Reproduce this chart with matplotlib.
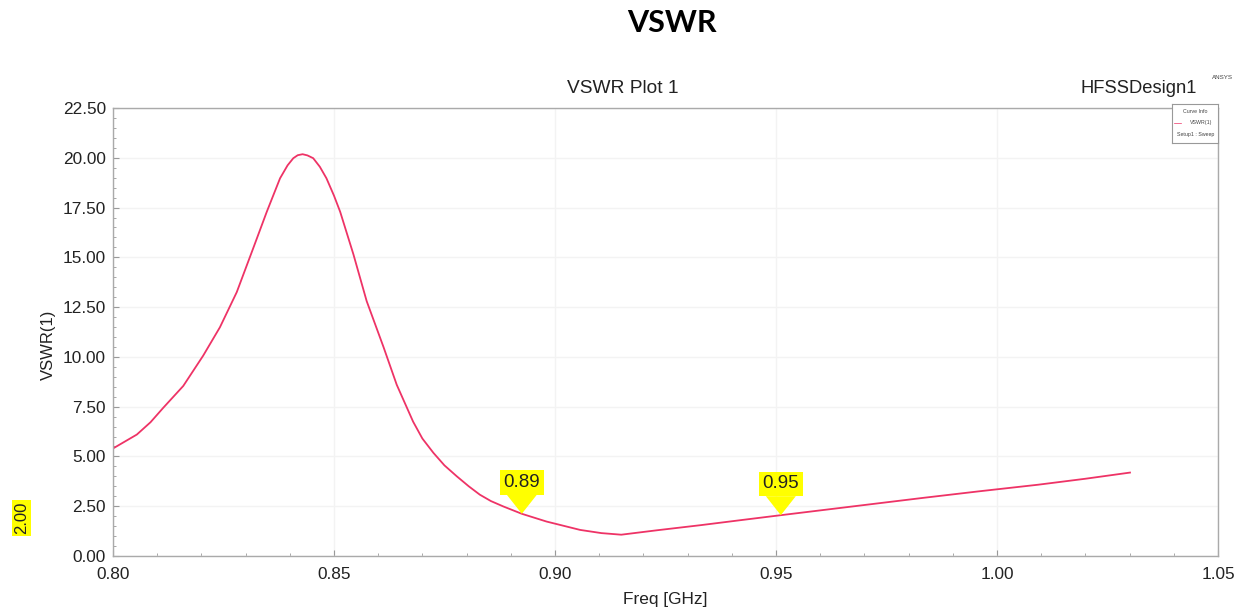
"""
HFSS VSWR plot recreation
"""
import numpy as np
import matplotlib.pyplot as plt
from matplotlib.ticker import AutoMinorLocator

# VSWR(1) curve
freq_ghz = [0.8000, 0.8054, 0.8085, 0.8114, 0.8159, 0.8204, 0.8242, 0.8280,
            0.8317, 0.8348, 0.8378, 0.8395, 0.8408, 0.8418, 0.8429, 0.8440,
            0.8453, 0.8468, 0.8483, 0.8500, 0.8514, 0.8544, 0.8574, 0.8612,
            0.8642, 0.8679, 0.8700, 0.8725, 0.8750, 0.8778, 0.8805, 0.8830,
            0.8855, 0.8883, 0.8925, 0.8981, 0.9057, 0.9105, 0.9150, 0.9230,
            0.9330, 0.9420, 0.9511, 0.9670, 0.9833, 0.9960, 1.0093, 1.0200,
            1.0301]
vswr = [5.40, 6.10, 6.72, 7.45, 8.54, 10.06, 11.49, 13.25,
        15.44, 17.29, 18.97, 19.62, 19.98, 20.13, 20.18, 20.12,
        19.98, 19.55, 18.97, 18.10, 17.29, 15.15, 12.80, 10.50,
        8.60, 6.75, 5.90, 5.18, 4.55, 4.00, 3.50, 3.08,
        2.76, 2.49, 2.12, 1.73, 1.31, 1.15, 1.07, 1.29,
        1.55, 1.80, 2.05, 2.48, 2.92, 3.25, 3.58, 3.88,
        4.19]

marker_freqs = [0.8925, 0.9511]
marker_labels = ["0.89", "0.95"]

x_ticks = [0.80, 0.85, 0.90, 0.95, 1.00, 1.05]
y_ticks = [0.0, 2.5, 5.0, 7.5, 10.0, 12.5, 15.0, 17.5, 20.0, 22.5]

plt.rcParams['font.family'] = ['Liberation Sans', 'DejaVu Sans']

fig = plt.figure(figsize=(12.47, 6.12), dpi=100)
ax = fig.add_axes([0.0906, 0.0915, 0.8861, 0.732])

ax.plot(freq_ghz, vswr, color='#EE3366', linewidth=1.3, solid_joinstyle='round')

ax.set_xlim(0.80, 1.05)
ax.set_ylim(0, 22.5)
ax.set_xticks(x_ticks)
ax.set_yticks(y_ticks)
ax.set_xticklabels([f"{t:.2f}" for t in x_ticks])
ax.set_yticklabels([f"{t:.2f}" for t in y_ticks])
ax.xaxis.set_minor_locator(AutoMinorLocator(5))
ax.yaxis.set_minor_locator(AutoMinorLocator(5))
ax.tick_params(which='both', direction='in', colors='#999999', labelcolor='#222222',
               labelsize=12.4, top=False, right=False)
ax.tick_params(which='major', length=4)
ax.tick_params(which='minor', length=2)
ax.tick_params(axis='x', which='major', pad=8)
ax.tick_params(axis='y', which='major', pad=5)
for s in ax.spines.values():
    s.set_color('#AAAAAA')
    s.set_linewidth(1.0)
ax.grid(True, which='major', color='#F3F3F3', linewidth=1.0)
ax.set_axisbelow(True)

ax.set_xlabel('Freq [GHz]', fontsize=12.4, color='#222222')
ax.set_ylabel('VSWR(1)', fontsize=12, color='#222222')
ax.xaxis.label.set_va('center')
ax.xaxis.set_label_coords(0.4995, -0.098)
ax.yaxis.label.set_va('center')
ax.yaxis.set_label_coords(-0.0588, 0.471)

# markers
for mf, lab in zip(marker_freqs, marker_labels):
    mv = np.interp(mf, freq_ghz, vswr)
    ax.annotate(lab, xy=(mf, mv), xytext=(0, 22.5), textcoords='offset points',
                ha='center', va='center', fontsize=13.5, color='#222222',
                bbox=dict(boxstyle='square,pad=0.2', fc='#FFFF00', ec='none'),
                arrowprops=dict(arrowstyle='wedge,tail_width=1.6,shrink_factor=0.5',
                                fc='#FFFF00', ec='none', shrinkA=0, shrinkB=0))

# titles and labels
fig.text(0.539, 0.962, 'VSWR', ha='center', va='center', fontsize=22,
         fontweight='bold', family=['Lato', 'DejaVu Sans'])
fig.text(0.499, 0.856, 'VSWR Plot 1', ha='center', va='center', fontsize=13.8, color='#222222')
fig.text(0.913, 0.856, 'HFSSDesign1', ha='center', va='center', fontsize=13.2, color='#222222')
fig.text(0.980, 0.873, 'ANSYS', ha='center', va='center', fontsize=4.5, color='#444444')

# legend box
leg_ax = fig.add_axes([0.940, 0.766, 0.037, 0.064])
leg_ax.set_xticks([])
leg_ax.set_yticks([])
for s in leg_ax.spines.values():
    s.set_color('#999999')
    s.set_linewidth(0.8)
leg_ax.text(0.5, 0.82, 'Curve Info', ha='center', va='center', fontsize=3.8, color='#444444')
leg_ax.text(0.62, 0.52, 'VSWR(1)', ha='center', va='center', fontsize=3.8, color='#444444')
leg_ax.plot([0.05, 0.2], [0.52, 0.52], color='#EE3366', linewidth=0.5)
leg_ax.text(0.5, 0.22, 'Setup1 : Sweep', ha='center', va='center', fontsize=3.8, color='#444444')
leg_ax.set_xlim(0, 1)
leg_ax.set_ylim(0, 1)

# yellow y value label
fig.text(0.0176, 0.1535, '2.00', ha='center', va='center', rotation=90, fontsize=12,
         color='#222222', bbox=dict(boxstyle='square,pad=0.12', fc='#FFFF00', ec='none'))

fig.savefig('out.png', dpi=100)
